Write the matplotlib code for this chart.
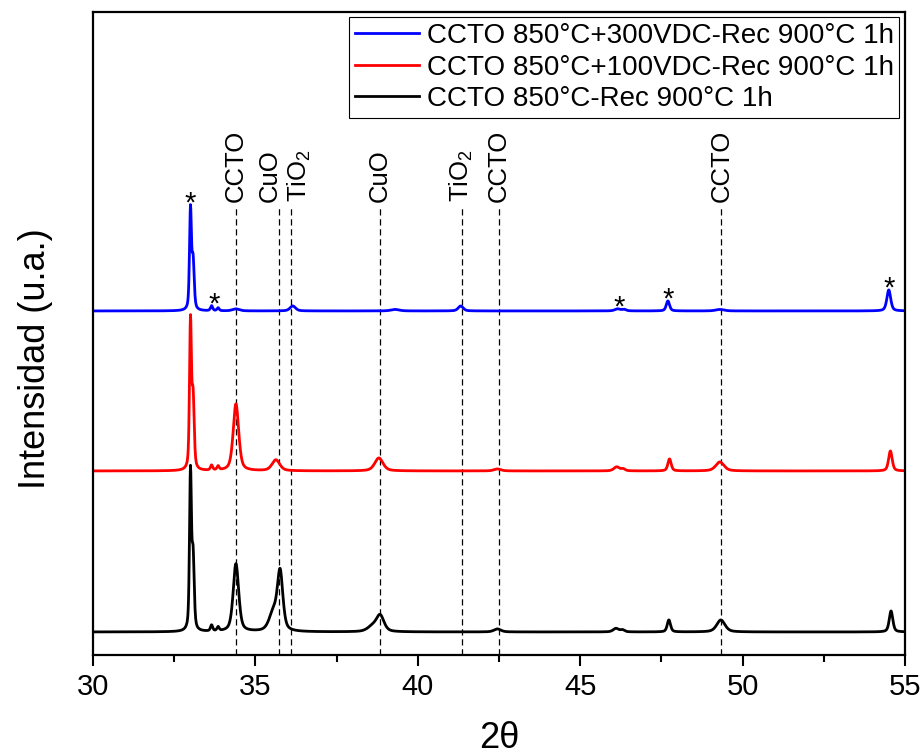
import numpy as np
import matplotlib
matplotlib.use("Agg")
import matplotlib.pyplot as plt
from matplotlib.ticker import MultipleLocator

plt.rcParams['font.family'] = ['Liberation Sans', 'DejaVu Sans']
plt.rcParams['mathtext.fontset'] = 'custom'
plt.rcParams['mathtext.rm'] = 'Liberation Sans'

# peak tables for each sample: 2theta (deg), height (a.u.), FWHM (deg)
black_pos    = [33.00, 33.08, 33.65, 33.85, 34.40, 35.55, 35.76, 38.60, 38.84, 42.45, 46.10, 46.30, 47.73, 49.33, 54.57]
black_height = [157, 72, 6, 4, 68, 18, 58, 5, 16, 3, 3.5, 2, 12, 12, 21]
black_fwhm   = [0.07, 0.08, 0.08, 0.08, 0.20, 0.30, 0.20, 0.35, 0.28, 0.25, 0.20, 0.15, 0.12, 0.30, 0.13]

red_pos    = [33.00, 33.08, 33.65, 33.85, 34.40, 35.63, 38.80, 42.45, 46.12, 46.32, 47.75, 49.30, 54.55]
red_height = [147, 70, 5, 4, 67, 11, 13, 2, 4, 2, 12, 9, 20]
red_fwhm   = [0.07, 0.08, 0.08, 0.08, 0.20, 0.28, 0.30, 0.25, 0.20, 0.15, 0.12, 0.30, 0.13]

blue_pos    = [33.00, 33.08, 33.65, 33.85, 34.40, 36.15, 39.30, 41.32, 46.15, 46.35, 47.70, 49.30, 54.50]
blue_height = [100, 48, 5, 3, 2, 5, 1.5, 5, 2, 1.5, 10, 1.5, 21]
blue_fwhm   = [0.07, 0.08, 0.08, 0.08, 0.25, 0.20, 0.30, 0.18, 0.20, 0.15, 0.12, 0.30, 0.14]

labels  = ['CCTO 850°C-Rec 900°C 1h',
           'CCTO 850°C+100VDC-Rec 900°C 1h',
           'CCTO 850°C+300VDC-Rec 900°C 1h']
colors  = ['black', 'red', 'blue']
offsets = [0, 161, 321]

# reference phase lines and their labels
phase_pos     = [34.40, 35.74, 36.11, 38.84, 41.35, 42.49, 49.35]
phase_names   = ['CCTO', 'CuO', 'TiO$_\\mathregular{2}$', 'CuO', 'TiO$_\\mathregular{2}$', 'CCTO', 'CCTO']
phase_label_x = [34.40, 35.44, 36.36, 38.84, 41.33, 42.49, 49.35]

# unidentified reflections in the 300 VDC sample
star_pos = [33.00, 33.72, 46.19, 47.70, 54.50]

two_theta = np.arange(30, 55.001, 0.01)


def pattern(pos, height, fwhm):
    y = np.zeros_like(two_theta)
    for p, h, w in zip(pos, height, fwhm):
        d = 2 * (two_theta - p) / w
        y += h * (0.5 / (1 + d ** 2) + 0.5 * np.exp(-np.log(2) * d ** 2))
    return y


curves = [pattern(black_pos, black_height, black_fwhm),
          pattern(red_pos, red_height, red_fwhm),
          pattern(blue_pos, blue_height, blue_fwhm)]

fig = plt.figure(figsize=(9.23, 7.55), dpi=100)
ax = fig.add_axes([0.1008, 0.1325, 0.8797, 0.8517])

ymin, ymax = -23, 620
line_top, label_y = 425, 430

for p in phase_pos:
    ax.plot([p, p], [ymin, line_top], color='black', lw=0.9,
            ls=(0, (5, 3)), zorder=1)
for lx, name in zip(phase_label_x, phase_names):
    ax.text(lx, label_y, name, rotation=90, ha='center', va='bottom',
            fontsize=18.5)

lines = []
for y, off, c, lab in zip(curves, offsets, colors, labels):
    ln, = ax.plot(two_theta, y + off, color=c, lw=2.0, label=lab, zorder=2)
    lines.append(ln)

blue_curve = curves[2] + offsets[2]
for p in star_pos:
    win = np.abs(two_theta - p) < 0.1
    ax.annotate('*', xy=(p, blue_curve[win].max()), xytext=(0, -5),
                textcoords='offset points', ha='center', va='baseline',
                fontsize=21)

ax.set_xlim(30, 55)
ax.set_ylim(ymin, ymax)
ax.xaxis.set_major_locator(MultipleLocator(5))
ax.xaxis.set_minor_locator(MultipleLocator(2.5))
ax.set_yticks([])
ax.tick_params(axis='x', which='major', direction='out', length=8,
               width=1.5, labelsize=21, pad=5)
ax.tick_params(axis='x', which='minor', direction='out', length=5, width=1.5)
for s in ax.spines.values():
    s.set_linewidth(1.6)

ax.set_xlabel('2θ', fontsize=26)
ax.set_ylabel('Intensidad (u.a.)', fontsize=26)
ax.xaxis.set_label_coords(0.5, -0.103)
ax.yaxis.set_label_coords(-0.049, 0.461)

leg = ax.legend(handles=lines[::-1], loc='upper right', fontsize=20,
                frameon=True, fancybox=False, edgecolor='black',
                framealpha=1, borderaxespad=0.2, borderpad=0.2,
                labelspacing=0.2, handlelength=2.3, handletextpad=0.3)
leg.get_frame().set_linewidth(0.8)

fig.savefig('out.png', dpi=100)
